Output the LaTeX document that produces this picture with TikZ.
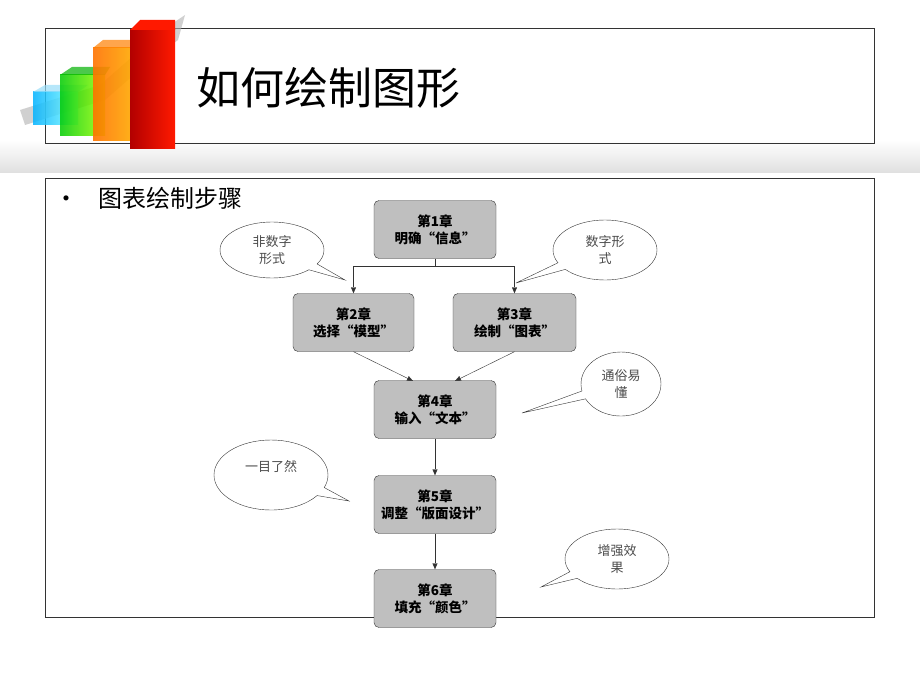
\documentclass[tikz,border=0pt]{standalone}
\usepackage{fontspec}
\newfontfamily\cjk{Noto Sans CJK SC}
\usetikzlibrary{shapes.callouts,arrows.meta}
\begin{document}
\begin{tikzpicture}[x=1pt,y=-1pt,
  stepbox/.style={draw=black!80,fill=black!25,rounded corners=5pt,minimum width=122pt,minimum height=58pt,align=center,font=\cjk\bfseries\fontsize{13.5}{17}\selectfont},
  bubble/.style={ellipse callout,draw=black!80,fill=white,align=center,font=\cjk\fontsize{13}{17}\selectfont,text=black!70},
  arr/.style={-{Triangle[length=6pt,width=5pt]},draw=black!80}]
\useasboundingbox (0,0) rectangle (920,690);
\fill[white] (0,0) rectangle (920,690);
\shade[top color=white,bottom color=black!12] (0,140) rectangle (920,172);
\draw[black!80] (45,28) rectangle (874,143);
% logo
\fill[black!30,opacity=0.6] (20,110) -- (100,85) -- (140,50) -- (170,25) -- (185,15) -- (178,40) -- (145,65) -- (105,100) -- (25,125) -- cycle;
\shade[left color=cyan!70!blue,right color=cyan!50,opacity=0.85] (33,92) rectangle (78,125);
\fill[cyan!40,opacity=0.7] (33,92) -- (45,85) -- (88,85) -- (78,92) -- cycle;
\shade[left color=green!80!black,right color=yellow!60!green,opacity=0.85] (60,75) rectangle (105,135);
\fill[green!70!black,opacity=0.7] (60,75) -- (72,67) -- (110,67) -- (105,75) -- cycle;
\shade[left color=orange!90!red,right color=orange!70!yellow,opacity=0.9] (93,48) rectangle (130,140);
\fill[orange,opacity=0.7] (93,48) -- (103,40) -- (140,40) -- (130,48) -- cycle;
\shade[left color=red!70!black,right color=red!80!orange] (130,30) rectangle (175,148);
\fill[red!80!orange] (130,30) -- (140,20) -- (175,20) -- (175,30) -- cycle;
\node[anchor=west,font=\cjk\fontsize{44}{46}\selectfont,inner sep=0pt] (title) at (196,88) {如何绘制图形};
\draw[black!80] (45,178) rectangle (874,617);
\node[anchor=west,font=\cjk\fontsize{24}{26}\selectfont,inner sep=0pt] (bul) at (54,198) {•\hspace{20pt}图表绘制步骤};
\node[stepbox] (b1) at (435,229.5) {第1章\\明确“信息”};
\node[stepbox,minimum width=121pt] (b2) at (353.5,322.5) {第2章\\选择“模型”};
\node[stepbox,minimum width=123pt] (b3) at (514.5,322.5) {第3章\\绘制“图表”};
\node[stepbox] (b4) at (435,409.5) {第4章\\输入“文本”};
\node[stepbox] (b5) at (435,504.5) {第5章\\调整“版面设计”};
\node[stepbox] (b6) at (435,598.5) {第6章\\填充“颜色”};
\coordinate (j) at (435,266);
\draw[black!80] (b1.south) -- (j);
\draw[arr] (j) -| (b2.north);
\draw[arr] (j) -| (b3.north);
\draw[arr] (b2.south) -- (413,381);
\draw[arr] (b3.south) -- (455,381);
\draw[arr] (b4) -- (b5);
\draw[arr] (b5) -- (b6);
\node[bubble,minimum width=104pt,minimum height=56pt,callout absolute pointer={(345,280)}] (c1) at (272,250) {非数字\\形式};
\node[bubble,minimum width=104pt,minimum height=60pt,callout absolute pointer={(516,283)}] (c2) at (605,250) {数字形\\式};
\node[bubble,minimum width=80pt,minimum height=64pt,callout absolute pointer={(522,413)}] (c3) at (621,384) {通俗易\\懂};
\node[bubble,minimum width=114pt,minimum height=70pt,callout absolute pointer={(349,501)},text depth=18pt] (c4) at (271,475) {一目了然};
\node[bubble,minimum width=104pt,minimum height=60pt,callout absolute pointer={(541,587)}] (c5) at (617,559) {增强效\\果};
\end{tikzpicture}
\end{document}
